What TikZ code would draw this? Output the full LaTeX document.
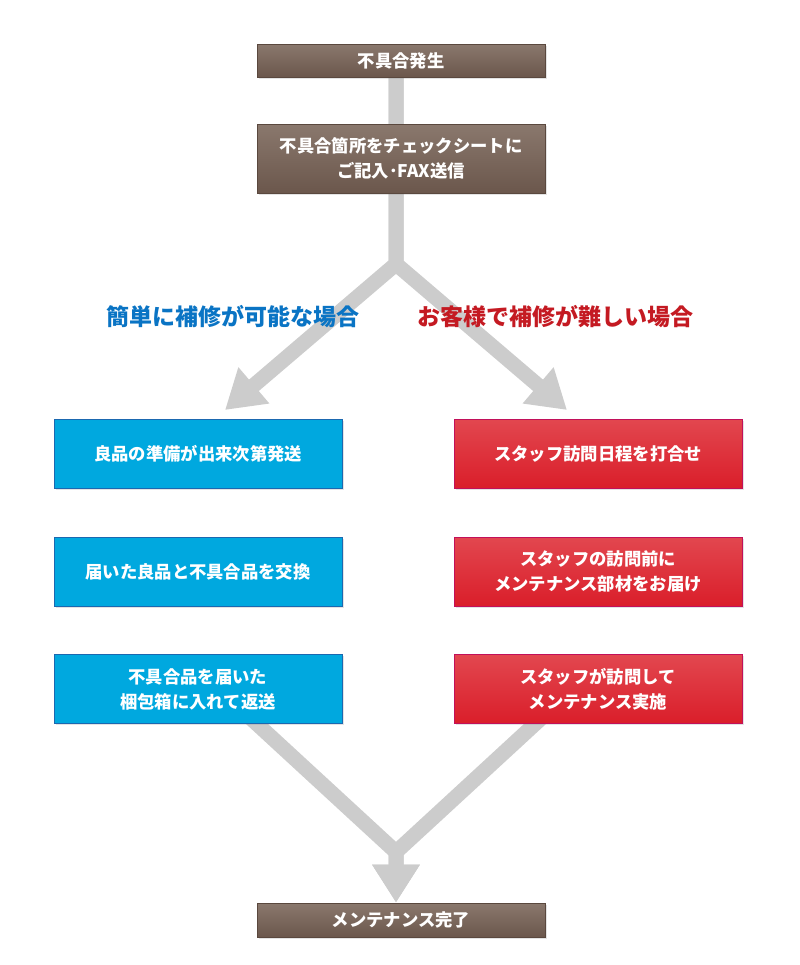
\documentclass[tikz,border=0pt]{standalone}
\usepackage{fontspec}
\setmainfont{Noto Sans CJK JP}
\newfontfamily\lblfont{Noto Sans CJK JP Black}
\usetikzlibrary{arrows.meta,shadows,backgrounds}
\definecolor{brownT}{HTML}{8A786D}
\definecolor{brownB}{HTML}{6B574C}
\definecolor{brownD}{HTML}{5A483E}
\definecolor{blueF}{HTML}{00A8DF}
\definecolor{blueD}{HTML}{1B68B0}
\definecolor{redT}{HTML}{E2474F}
\definecolor{redB}{HTML}{DA1E2A}
\definecolor{redD}{HTML}{C2105A}
\definecolor{connc}{HTML}{CCCCCC}
\definecolor{lblue}{HTML}{0A74C4}
\definecolor{lred}{HTML}{C41A22}
\begin{document}
\begin{tikzpicture}[x=0.75pt,y=-0.75pt,
  conn/.style={draw=connc, line width=11.25pt, line join=miter, line cap=butt},
  tiphead/.style={-{Triangle[width=33.75pt,length=28.5pt]}},
  basebox/.style={rectangle, inner sep=0pt, align=center, text=white,
    font=\bfseries\fontsize{13pt}{18.75pt}\selectfont, minimum width=216pt,
    drop shadow={shadow xshift=1.2pt, shadow yshift=-1.2pt, opacity=0.22}},
  brownbox/.style={basebox, top color=brownT, bottom color=brownB, draw=brownD, line width=0.6pt},
  bluebox/.style={basebox, fill=blueF, draw=blueD, line width=0.75pt, minimum height=51.75pt},
  redbox/.style={basebox, top color=redT, bottom color=redB, draw=redD, line width=0.75pt, minimum height=51.75pt},
  lbl/.style={font=\lblfont\fontsize{17.25pt}{20pt}\selectfont, inner sep=0pt}
]
\useasboundingbox (0,0) rectangle (800,965);

\node[brownbox, minimum height=24.75pt] (b1) at (401,60.5) {不具合発生};
\node[brownbox, minimum height=51.75pt] (b2) at (401,158.5) {不具合箇所をチェックシートに\\ご記入･FAX送信};

\node[lbl, text=lblue] (lbL) at (232.5,317) {簡単に補修が可能な場合};
\node[lbl, text=lred] (lbR) at (555.5,317) {お客様で補修が難しい場合};

\node[bluebox] (L1) at (198,453.5) {良品の準備が出来次第発送};
\node[bluebox] (L2) at (198,571.5) {届いた良品と不具合品を交換};
\node[bluebox] (L3) at (198,689) {不具合品を届いた\\梱包箱に入れて返送};

\node[redbox] (R1) at (598,453.5) {スタッフ訪問日程を打合せ};
\node[redbox] (R2) at (598,571.5) {スタッフの訪問前に\\メンテナンス部材をお届け};
\node[redbox] (R3) at (598,689) {スタッフが訪問して\\メンテナンス実施};

\node[brownbox, minimum height=25.5pt] (fin) at (401,920) {メンテナンス完了};

\coordinate (fork) at (396,264);
\coordinate (tipL) at (225,410);
\coordinate (tipR) at (567,410);
\coordinate (join) at (396,852);
\coordinate (sL) at (231,700);
\coordinate (sR) at (561,700);

\begin{scope}[on background layer]
\draw[conn, tiphead] (fork |- b1.center) -- (fork) -- (tipL);
\draw[conn, tiphead] (fork |- b1.center) -- (fork) -- (tipR);
\draw[conn, tiphead] (sL) -- (join) -- (join |- fin.north);
\draw[conn, tiphead] (sR) -- (join) -- (join |- fin.north);
\end{scope}
\end{tikzpicture}
\end{document}
